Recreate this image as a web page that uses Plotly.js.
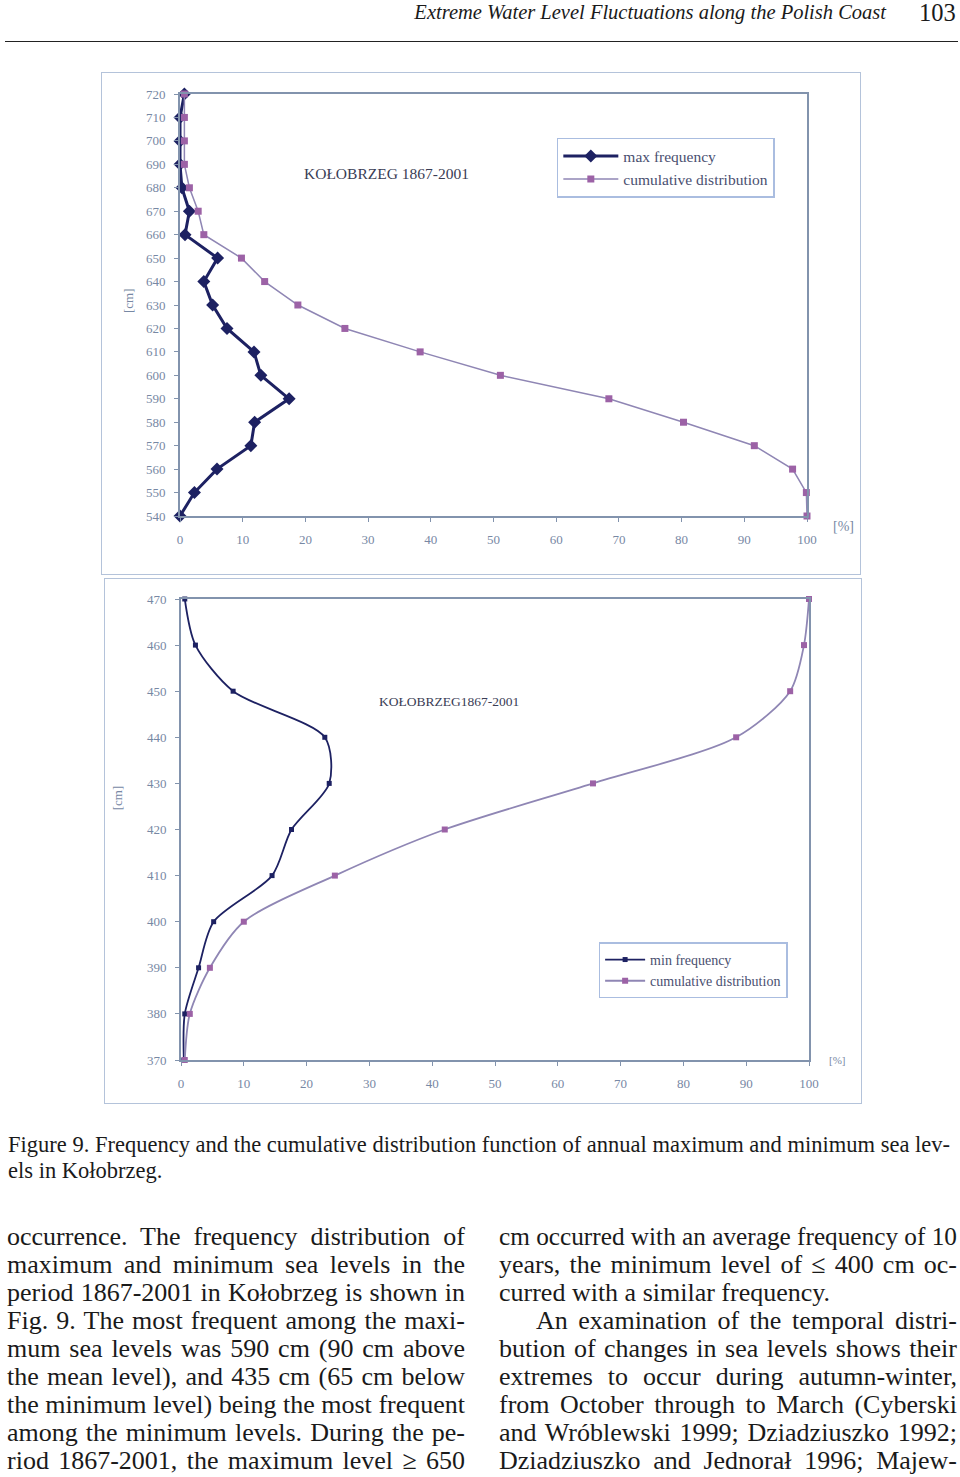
<!DOCTYPE html>
<html>
<head>
<meta charset="utf-8">
<script src="https://cdn.plot.ly/plotly-3.0.1.min.js"></script>
<style>
  html, body { margin:0; padding:0; background:#fff; }
  body { width:960px; height:1477px; position:relative; overflow:hidden; font-family:"Liberation Serif", "DejaVu Serif", serif; color:#1a1a1a; }
  .abs { position:absolute; }
  #hdr { left:300px; width:586px; top:1px; font-style:italic; font-size:20.5px; text-align:right; white-space:nowrap; }
  #pg { left:919px; top:-1px; font-size:24.5px; }
  #rule { left:5px; top:41px; width:953px; height:0; border-top:1.6px solid #222; }
  #c1 { left:101px; top:72px; width:758px; height:501px; border:1.5px solid #b4c3da; }
  #c2 { left:104px; top:578px; width:756px; height:524px; border:1.5px solid #b4c3da; }
  .cap { font-size:23px; white-space:nowrap; transform-origin:left top; }
  .ln { position:absolute; font-size:26px; line-height:28px; height:28px; text-align:justify; text-align-last:justify; white-space:nowrap; transform-origin:left top; }
</style>
</head>
<body>
<div id="hdr" class="abs">Extreme Water Level Fluctuations along the Polish Coast</div>
<div id="pg" class="abs">103</div>
<div id="rule" class="abs"></div>

<div id="c1" class="abs"></div>
<div id="c2" class="abs"></div>

<div id="cap1" class="abs cap" style="left:8px; top:1132px;">Figure 9. Frequency and the cumulative distribution function of annual maximum and minimum sea lev-</div>
<div id="cap2" class="abs cap" style="left:8px; top:1158px;">els in Kołobrzeg.</div>

<script>
// ---------- DATA ----------
const levelsMax = [720, 710, 700, 690, 680, 670, 660, 650, 640, 630, 620, 610, 600, 590, 580, 570, 560, 550, 540];
const maxFrequency = [0.7, 0, 0, 0, 0.3, 1.5, 0.8, 6.0, 3.8, 5.2, 7.5, 11.8, 12.9, 17.4, 11.9, 11.3, 5.9, 2.3, 0];
const maxCumulative = [0.7, 0.7, 0.7, 0.7, 1.5, 2.9, 3.8, 9.8, 13.5, 18.8, 26.3, 38.3, 51.1, 68.4, 80.3, 91.6, 97.7, 99.9, 100];

const levelsMin = [470, 460, 450, 440, 430, 420, 410, 400, 390, 380, 370];
const minFrequency = [0.6, 2.3, 8.3, 22.9, 23.6, 17.6, 14.5, 5.2, 2.8, 0.6, 0.45];
const minCumulative = [100, 99.2, 97.0, 88.4, 65.6, 42.0, 24.5, 10.0, 4.6, 1.4, 0.6];

const xTicks = [0, 10, 20, 30, 40, 50, 60, 70, 80, 90, 100];
const yTicksMax = [540, 550, 560, 570, 580, 590, 600, 610, 620, 630, 640, 650, 660, 670, 680, 690, 700, 710, 720];
const yTicksMin = [370, 380, 390, 400, 410, 420, 430, 440, 450, 460, 470];

const titleMax = "KOŁOBRZEG 1867-2001";
const titleMin = "KOŁOBRZEG1867-2001";
const legendMax = ["max frequency", "cumulative distribution"];
const legendMin = ["min frequency", "cumulative distribution"];

const leftLines = [
  "occurrence. The frequency distribution of",
  "maximum and minimum sea levels in the",
  "period 1867-2001 in Kołobrzeg is shown in",
  "Fig. 9. The most frequent among the maxi-",
  "mum sea levels was 590 cm (90 cm above",
  "the mean level), and 435 cm (65 cm below",
  "the minimum level) being the most frequent",
  "among the minimum levels. During the pe-",
  "riod 1867-2001, the maximum level ≥ 650"
];
const rightLines = [
  "cm occurred with an average frequency of 10",
  "years, the minimum level of ≤ 400 cm oc-",
  "curred with a similar frequency.",
  "An examination of the temporal distri-",
  "bution of changes in sea levels shows their",
  "extremes to occur during autumn-winter,",
  "from October through to March (Cyberski",
  "and Wróblewski 1999; Dziadziuszko 1992;",
  "Dziadziuszko and Jednorał 1996; Majew-"
];

// ---------- TEXT ----------
function addLines(lines, left, noJustify, indentIdx) {
  lines.forEach((t, i) => {
    const d = document.createElement('div');
    d.className = 'ln';
    const indent = indentIdx.includes(i) ? 37 : 0;
    const w = 458 - indent;
    d.style.left = (left + indent) + 'px';
    d.style.top = (1223 + i * 28) + 'px';
    d.textContent = t;
    document.body.appendChild(d);
    d.style.width = 'auto';
    d.style.textAlign = 'left';
    d.style.textAlignLast = 'left';
    const nat = d.getBoundingClientRect().width;
    if (noJustify.includes(i)) {
      if (nat > w) d.style.transform = 'scaleX(' + (w / nat) + ')';
      return;
    }
    if (nat > w) {
      d.style.transform = 'scaleX(' + (w / nat) + ')';
    } else {
      d.style.width = w + 'px';
      d.style.textAlign = 'justify';
      d.style.textAlignLast = 'justify';
    }
  });
}
addLines(leftLines, 7, [], []);
addLines(rightLines, 499, [2], [3]);

(function () {
  const c1 = document.getElementById('cap1');
  const nat = c1.getBoundingClientRect().width;
  const s = 942 / nat;
  c1.style.transform = 'scaleX(' + s + ')';
  document.getElementById('cap2').style.transform = 'scaleX(' + s + ')';
})();

// ---------- CHARTS ----------
const axisCol = '#8293ad';
const tickCol = '#7788a4';
const darkCol = '#1d2162';
const pinkMk = '#9c62a6';
const pinkLn = '#8f86b4';
const serif = '"Liberation Serif", "DejaVu Serif", serif';

function axes(yTicks, yRange) {
  return {
    xaxis: {
      range: [0, 100], tickvals: xTicks, ticktext: xTicks.map(String),
      showline: true, linecolor: axisCol, linewidth: 2, mirror: true,
      ticks: 'outside', ticklen: 4, tickcolor: axisCol, tickwidth: 1,
      ticklabelstandoff: 6,
      showgrid: false, zeroline: false,
      tickfont: { family: serif, size: 13, color: tickCol }
    },
    yaxis: {
      range: yRange, tickvals: yTicks, ticktext: yTicks.map(String),
      showline: true, linecolor: axisCol, linewidth: 2, mirror: true,
      ticks: 'outside', ticklen: 4, tickcolor: axisCol, tickwidth: 1,
      ticklabelstandoff: 6,
      showgrid: false, zeroline: false,
      tickfont: { family: serif, size: 13, color: tickCol }
    }
  };
}

// Top chart (maximum levels)
const t1 = [
  {
    x: maxFrequency, y: levelsMax, name: legendMax[0], type: 'scatter', mode: 'lines+markers',
    line: { color: darkCol, width: 3 },
    marker: { symbol: 'diamond', size: 10, color: darkCol },
    cliponaxis: false
  },
  {
    x: maxCumulative, y: levelsMax, name: legendMax[1], type: 'scatter', mode: 'lines+markers',
    line: { color: pinkLn, width: 1.5 },
    marker: { symbol: 'square', size: 7, color: pinkMk },
    cliponaxis: false
  }
];
const a1 = axes(yTicksMax, [540, 720]);
const l1 = Object.assign({
  width: 758, height: 501,
  margin: { l: 78, r: 53, t: 21, b: 58 },
  paper_bgcolor: '#fff', plot_bgcolor: '#fff',
  showlegend: true,
  legend: {
    x: 0.601, y: 0.896, xanchor: 'left', yanchor: 'top',
    bgcolor: '#fff', bordercolor: '#aabde0', borderwidth: 1.5,
    font: { family: serif, size: 15.5, color: '#4a4f70' },
    itemwidth: 55, tracegroupgap: 4
  },
  annotations: [
    { text: titleMax, x: 0.329, y: 0.811, xref: 'paper', yref: 'paper', xanchor: 'center', yanchor: 'middle', showarrow: false,
      font: { family: serif, size: 15.5, color: '#3a3d55' } },
    { text: '[cm]', x: -0.081, y: 0.51, xref: 'paper', yref: 'paper', xanchor: 'center', yanchor: 'middle', showarrow: false, textangle: -90,
      font: { family: serif, size: 13, color: tickCol } },
    { text: '[%]', x: 1.059, y: -0.026, xref: 'paper', yref: 'paper', xanchor: 'center', yanchor: 'middle', showarrow: false,
      font: { family: serif, size: 14, color: tickCol } }
  ]
}, a1);
Plotly.newPlot('c1', t1, l1, { staticPlot: true, displayModeBar: false });

// Bottom chart (minimum levels)
const t2 = [
  {
    x: minFrequency, y: levelsMin, name: legendMin[0], type: 'scatter', mode: 'lines+markers',
    line: { color: darkCol, width: 1.8, shape: 'spline', smoothing: 0.8 },
    marker: { symbol: 'square', size: 5, color: darkCol },
    cliponaxis: false
  },
  {
    x: minCumulative, y: levelsMin, name: legendMin[1], type: 'scatter', mode: 'lines+markers',
    line: { color: pinkLn, width: 1.8, shape: 'spline', smoothing: 0.8 },
    marker: { symbol: 'square', size: 6, color: pinkMk },
    cliponaxis: false
  }
];
const a2 = axes(yTicksMin, [370, 470]);
const l2 = Object.assign({
  width: 756, height: 524,
  margin: { l: 76, r: 52, t: 20, b: 43 },
  paper_bgcolor: '#fff', plot_bgcolor: '#fff',
  showlegend: true,
  legend: {
    x: 0.665, y: 0.255, xanchor: 'left', yanchor: 'top',
    bgcolor: '#fff', bordercolor: '#aabde0', borderwidth: 1.5,
    font: { family: serif, size: 14, color: '#4a4f70' },
    itemwidth: 40, tracegroupgap: 2
  },
  annotations: [
    { text: titleMin, x: 0.426, y: 0.777, xref: 'paper', yref: 'paper', xanchor: 'center', yanchor: 'middle', showarrow: false,
      font: { family: serif, size: 13.5, color: '#3a3d55' } },
    { text: '[cm]', x: -0.101, y: 0.569, xref: 'paper', yref: 'paper', xanchor: 'center', yanchor: 'middle', showarrow: false, textangle: -90,
      font: { family: serif, size: 13, color: tickCol } },
    { text: '[%]', x: 1.045, y: 0.0, xref: 'paper', yref: 'paper', xanchor: 'center', yanchor: 'middle', showarrow: false,
      font: { family: serif, size: 11, color: tickCol } }
  ]
}, a2);
Plotly.newPlot('c2', t2, l2, { staticPlot: true, displayModeBar: false });
</script>
</body>
</html>
